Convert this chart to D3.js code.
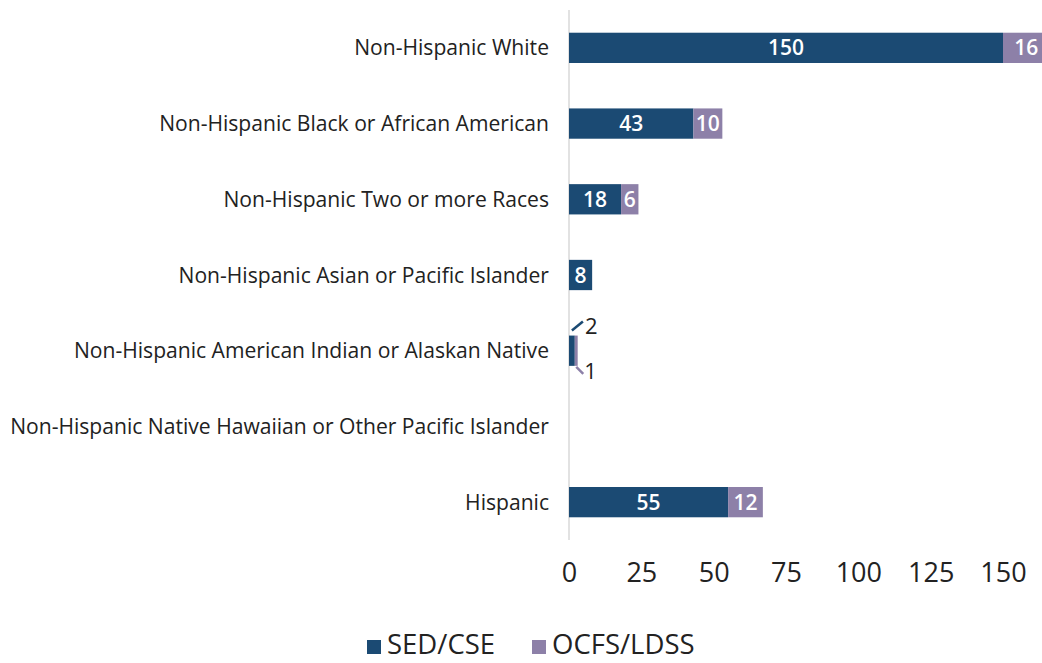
<!DOCTYPE html>
<html>
<head>
<meta charset="utf-8">
<script src="https://cdn.jsdelivr.net/npm/d3@7"></script>
<style>
  body { margin: 0; background: #fff; }
  svg { display: block; font-family: "Open Sans", Lato, sans-serif; }
</style>
</head>
<body>
<div id="chart"></div>
<script>
// Stacked horizontal bars: cases by race/ethnicity, SED/CSE vs OCFS/LDSS

const categories = [
    "Non-Hispanic White",
    "Non-Hispanic Black or African American",
    "Non-Hispanic Two or more Races",
    "Non-Hispanic Asian or Pacific Islander",
    "Non-Hispanic American Indian or Alaskan Native",
    "Non-Hispanic Native Hawaiian or Other Pacific Islander",
    "Hispanic"
];
const sedValues = [150, 43, 18, 8, 2, 0, 55];
const ocfsValues = [16, 10, 6, 0, 1, 0, 12];
const seriesNames = ["SED/CSE", "OCFS/LDSS"];
const tickValues = [0, 25, 50, 75, 100, 125, 150];

const width = 1042;
const height = 663;
const margin = {top: 10, left: 569, right: 0, bottom: 123};

const colors = ["#1b4a73", "#8d80a8"];

const svg = d3.select("#chart")
    .append("svg")
    .attr("width", width)
    .attr("height", height);

const x = d3.scaleLinear()
    .domain([0, 150])
    .range([margin.left, 1003]);

const y = d3.scaleBand()
    .domain(categories)
    .range([margin.top, height - margin.bottom])
    .paddingInner(0.6)
    .paddingOuter(0.3);

const rows = categories.map((c, i) => ({cat: c, vals: [sedValues[i], ocfsValues[i]]}));

// axis line
svg.append("line")
    .attr("x1", x(0)).attr("x2", x(0))
    .attr("y1", margin.top).attr("y2", height - margin.bottom)
    .attr("stroke", "#d9d9d9")
    .attr("stroke-width", 1.5);

// segments
rows.forEach(r => {
    let start = 0;
    r.vals.forEach((v, s) => {
        if (v > 0) {
            const w = x(start + v) - x(start);
            svg.append("rect")
                .attr("x", x(start))
                .attr("y", y(r.cat))
                .attr("width", w)
                .attr("height", y.bandwidth())
                .attr("fill", colors[s]);
            if (w > 15) {
                svg.append("text")
                    .attr("x", x(start) + w / 2)
                    .attr("y", y(r.cat) + y.bandwidth() / 2)
                    .attr("dy", "0.36em")
                    .attr("text-anchor", "middle")
                    .attr("fill", "#fff")
                    .attr("font-size", "21px")
                    .attr("font-weight", 600)
                    .text(v);
            }
        }
        start += v;
    });
});

// small values labelled outside with leader lines
const small = rows[4];
const cy = y(small.cat);
const bh = y.bandwidth();
svg.append("line")
    .attr("x1", x(small.vals[0] / 2)).attr("y1", cy - 5)
    .attr("x2", x(small.vals[0] / 2) + 11).attr("y2", cy - 14)
    .attr("stroke", colors[0]).attr("stroke-width", 2.5);
svg.append("text")
    .attr("x", x(small.vals[0] / 2) + 13)
    .attr("y", cy - 9)
    .attr("dy", "0.36em")
    .attr("font-size", "22px")
    .attr("fill", "#222")
    .text(small.vals[0]);
svg.append("line")
    .attr("x1", x(small.vals[0] + small.vals[1] / 2)).attr("y1", cy + bh + 1)
    .attr("x2", x(small.vals[0] + small.vals[1] / 2) + 7).attr("y2", cy + bh + 8)
    .attr("stroke", colors[1]).attr("stroke-width", 2.5);
svg.append("text")
    .attr("x", x(small.vals[0] + small.vals[1] / 2) + 8)
    .attr("y", cy + bh + 5)
    .attr("dy", "0.36em")
    .attr("font-size", "22px")
    .attr("fill", "#222")
    .text(small.vals[1]);

// category labels
svg.append("g")
    .selectAll("text")
    .data(categories)
    .enter().append("text")
    .attr("x", x(0) - 20)
    .attr("y", d => y(d) + y.bandwidth() / 2)
    .attr("dy", "0.36em")
    .attr("text-anchor", "end")
    .attr("font-size", "21.1px")
    .attr("fill", "#222")
    .text(d => d);

// x axis
const xAxis = d3.axisBottom(x)
    .tickValues(tickValues)
    .tickSize(0)
    .tickPadding(0);
const gx = svg.append("g")
    .attr("transform", `translate(0,572)`)
    .call(xAxis);
gx.select(".domain").remove();
gx.selectAll("text")
    .attr("dy", "0.36em")
    .attr("font-size", "27px")
    .attr("font-family", "'Open Sans', Lato, sans-serif")
    .attr("fill", "#222");

// legend
const legend = svg.append("g").attr("transform", "translate(367,645)");
const legendX = [0, 165];
seriesNames.forEach((n, i) => {
    const g = legend.append("g").attr("transform", `translate(${legendX[i]},0)`);
    g.append("rect")
        .attr("x", 0).attr("y", -5)
        .attr("width", 14).attr("height", 14)
        .attr("fill", colors[i]);
    g.append("text")
        .attr("x", 20)
        .attr("dy", "0.34em")
        .attr("font-size", "27.5px")
        .attr("fill", "#222")
        .text(n);
});
</script>
</body>
</html>
